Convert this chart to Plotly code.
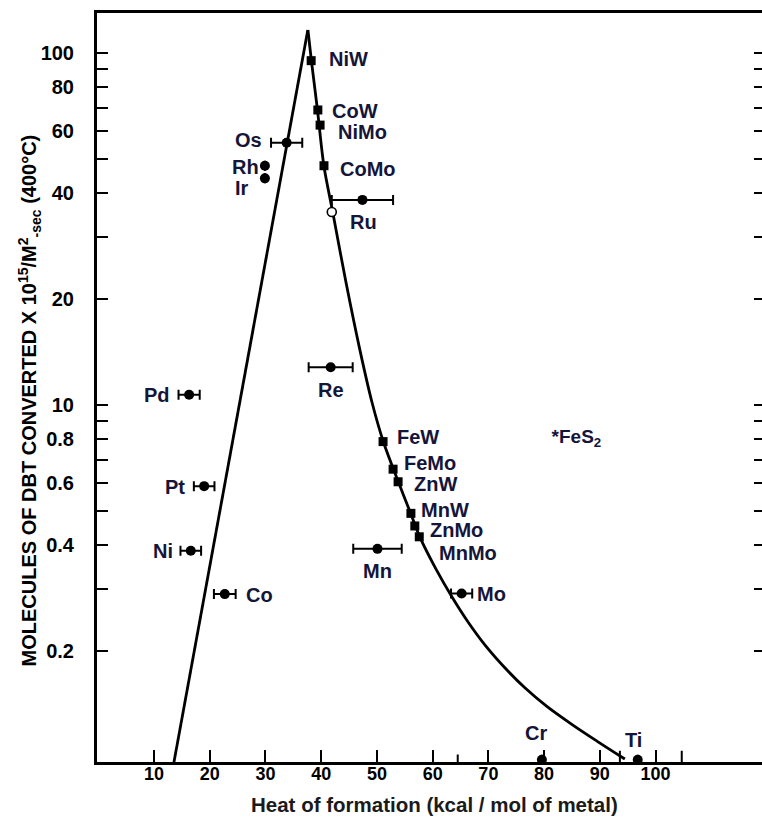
import math
import plotly.graph_objects as go

# ---- volcano curve ----
left_x = [13.5, 37.6]
left_y = [0.95, 116.5]
right_x = [37.62, 38.25, 39.33, 40.49, 42.11, 44.43, 46.96, 49.10, 51.17, 53.86, 56.10,
           57.71, 60.58, 63.45, 66.32, 69.37, 72.96, 76.55, 80.49, 85.16, 89.47, 94.49]
right_y = [116.5, 95.1, 69.0, 47.8, 35.1, 22.4, 14.3, 10.2, 7.85, 6.04, 4.90,
           4.21, 3.42, 2.85, 2.42, 2.08, 1.79, 1.57, 1.39, 1.23, 1.108, 0.985]

# ---- binary (promoted) sulfides, squares ----
binary_names = ["NiW", "CoW", "NiMo", "CoMo", "FeW", "FeMo", "ZnW", "MnW", "ZnMo", "MnMo"]
binary_x = [38.2, 39.4, 39.8, 40.5, 51.1, 52.9, 53.8, 56.1, 56.8, 57.6]
binary_y = [95.3, 69.0, 62.5, 47.9, 7.87, 6.57, 6.05, 4.92, 4.53, 4.22]

# ---- single transition-metal sulfides, circles ----
metal_names = ["Os", "Rh", "Ir", "Ru", "Pd", "Pt", "Ni", "Co", "Re", "Mn", "Mo", "Cr", "Ti"]
metal_x = [33.8, 29.9, 29.9, 47.4, 16.3, 19.0, 16.6, 22.7, 41.7, 50.1, 65.2, 79.6, 96.8]
metal_y = [55.7, 47.9, 44.1, 38.3, 10.7, 5.88, 3.85, 2.90, 12.8, 3.90, 2.91, 0.98, 0.98]
metal_xerr = [2.8, 0, 0, 5.5, 1.9, 1.85, 1.85, 1.95, 3.95, 4.35, 1.9, 0, 0]

# second Ru value (open circle)
ru_open_x = [41.9]
ru_open_y = [35.4]

# FeS2 marker-less note
note_x = [85.8]
note_y = [8.04]
note_text = ["*FeS<sub>2</sub>"]

# ---- axis ticks ----
y_tickvals = [2, 4, 6, 8, 10, 20, 40, 60, 80, 100]
y_ticktext = ["0.2", "0.4", "0.6", "0.8", "10", "20", "40", "60", "80", "100"]
y_minorvals = [3, 5, 7, 9, 30, 50, 70, 90]
x_tickvals = [10, 20, 30, 40, 50, 60, 70, 80, 90, 100]
x_ticktext = [str(v) for v in x_tickvals]
extra_xticks = [64.5, 93.6, 104.7]

# label placement (pixel offsets from each marker)
label_shift = {
    "NiW": (37, 2), "CoW": (37, -1), "NiMo": (42, -7), "CoMo": (44, -3),
    "FeW": (35, 5), "FeMo": (37, 6), "ZnW": (37, -2), "MnW": (34, 3),
    "ZnMo": (42, -4), "MnMo": (49, -16),
    "Os": (-38, 3), "Rh": (-19, -1), "Ir": (-23, -10), "Ru": (1, -22),
    "Pd": (-32, 0), "Pt": (-29, -1), "Ni": (-28, 0), "Co": (35, -1),
    "Re": (0, -23), "Mn": (0, -22), "Mo": (30, 0), "Cr": (-6, 27), "Ti": (-4, 20),
}

FONT = "Liberation Sans"
LABEL_COLOR = "#15153a"

fig = go.Figure()

fig.add_trace(go.Scatter(x=left_x, y=left_y, mode="lines",
                         line=dict(color="black", width=2.8), hoverinfo="skip"))
fig.add_trace(go.Scatter(x=right_x, y=right_y, mode="lines",
                         line=dict(color="black", width=2.8, shape="spline", smoothing=0.9),
                         hoverinfo="skip"))

fig.add_trace(go.Scatter(
    x=metal_x, y=metal_y, mode="markers",
    marker=dict(symbol="circle", size=10, color="black"),
    error_x=dict(type="data", array=metal_xerr, color="black", thickness=2, width=5),
    cliponaxis=False))

fig.add_trace(go.Scatter(
    x=ru_open_x, y=ru_open_y, mode="markers",
    marker=dict(symbol="circle", size=9, color="white", line=dict(color="black", width=1.6)),
    cliponaxis=False))

fig.add_trace(go.Scatter(
    x=binary_x, y=binary_y, mode="markers",
    marker=dict(symbol="square", size=9, color="black"),
    cliponaxis=False))

fig.add_trace(go.Scatter(
    x=note_x, y=note_y, mode="text", text=note_text,
    textfont=dict(family=FONT, size=19, color=LABEL_COLOR, weight="bold"),
    hoverinfo="skip"))

# invisible trace that carries the right-hand tick marks
fig.add_trace(go.Scatter(x=[None], y=[None], yaxis="y2", showlegend=False, hoverinfo="skip"))

annotations = []
for names, xs, ys in ((binary_names, binary_x, binary_y), (metal_names, metal_x, metal_y)):
    for n, xv, yv in zip(names, xs, ys):
        dx, dy = label_shift[n]
        annotations.append(dict(
            x=xv, y=math.log10(yv), xref="x", yref="y", text=n, showarrow=False,
            xshift=dx, yshift=dy,
            font=dict(family=FONT, size=20, color=LABEL_COLOR, weight="bold")))

annotations.append(dict(
    x=0.507, y=-0.0574, xref="paper", yref="paper", showarrow=False,
    text="Heat of formation (kcal / mol of metal)",
    xanchor="center", yanchor="middle",
    font=dict(family=FONT, size=20.5, color="#1a1a1a", weight="bold")))

annotations.append(dict(
    x=-0.102, y=0.483, xref="paper", yref="paper", showarrow=False, textangle=-90,
    text="MOLECULES OF DBT CONVERTED X 10<sup>15</sup>/M<sup>2</sup><sub>-sec</sub> (400\u00b0C)",
    xanchor="center", yanchor="middle",
    font=dict(family=FONT, size=20, color="black", weight="bold")))

shapes = []
for xv in extra_xticks:
    short = xv < 80
    shapes.append(dict(type="line", xref="x", yref="paper", x0=xv, x1=xv,
                       y0=0.0 if short else -0.004, y1=0.01 if short else 0.015,
                       line=dict(color="black", width=2)))

fig.update_layout(
    width=762, height=822,
    margin=dict(l=97, r=0, t=13, b=60),
    paper_bgcolor="white", plot_bgcolor="white",
    showlegend=False,
    annotations=annotations,
    shapes=shapes,
    xaxis=dict(
        range=[-0.23, 119.1], showgrid=False, zeroline=False,
        showline=True, linecolor="black", linewidth=2.5, mirror=True,
        ticks="inside", ticklen=12, tickwidth=2, tickcolor="black",
        tickvals=x_tickvals, ticktext=x_ticktext, ticklabelstandoff=-6,
        tickfont=dict(family=FONT, size=18, color="black", weight="bold")),
    yaxis=dict(
        type="log", range=[-0.015, 2.1146], showgrid=False, zeroline=False,
        showline=True, linecolor="black", linewidth=3,
        ticks="inside", ticklen=11, tickwidth=2, tickcolor="black",
        tickvals=y_tickvals, ticktext=y_ticktext, ticklabelstandoff=16,
        tickfont=dict(family=FONT, size=20, color="black", weight="bold"),
        minor=dict(tickmode="array", tickvals=y_minorvals, ticks="inside",
                   ticklen=11, tickwidth=2, tickcolor="black", showgrid=False)),
    yaxis2=dict(
        type="log", range=[-0.015, 2.1146], overlaying="y", side="right",
        showgrid=False, zeroline=False, showline=False,
        ticks="inside", ticklen=8, tickwidth=2, tickcolor="black",
        tickvals=sorted(y_tickvals + y_minorvals), showticklabels=False),
)

fig.write_html("out.html")
